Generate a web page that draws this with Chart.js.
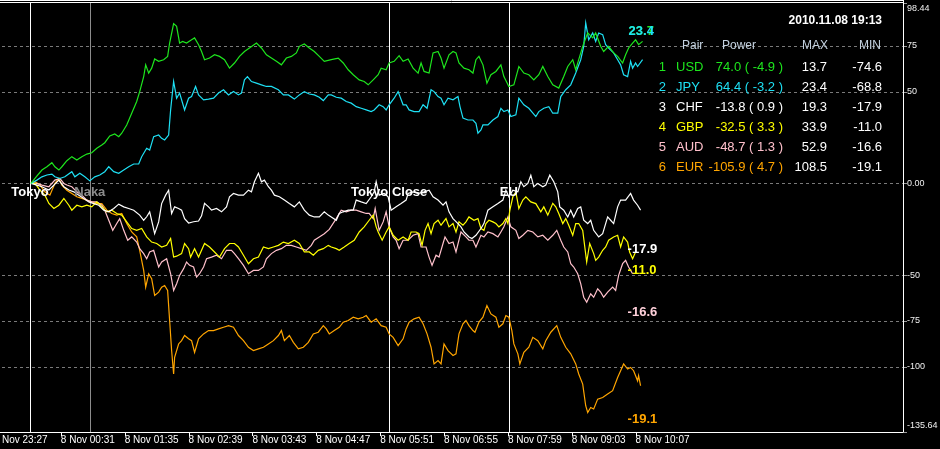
<!DOCTYPE html>
<html><head><meta charset="utf-8">
<style>html,body{margin:0;padding:0;background:#000;overflow:hidden}#wrap{width:940px;height:449px;position:relative}</style>
<script src="https://cdn.jsdelivr.net/npm/chart.js@4.4.1/dist/chart.umd.min.js"></script>
</head><body><div id="wrap"><canvas id="c"></canvas></div>
<script>
// ---- data (x = minutes since 7 Nov 23:32, one pixel per M1 bar) ----
const usdX = [29,33,40,45,50,53,57,60,65,70,75,80,85,90,95,100,103,108,113,117,120,125,130,135,138,142,144,147,150,153,157,162,166,168,172,175,178,181,185,190,193,197,200,203,208,213,218,223,228,233,238,243,248,255,260,265,270,275,280,285,290,295,298,303,308,313,318,323,330,337,342,347,352,358,363,367,372,377,380,385,388,393,398,402,407,412,417,420,423,428,432,437,440,443,448,452,455,458,463,468,472,475,478,482,486,490,495,500,503,508,513,518,523,528,533,538,542,547,552,558,563,567,572,575,578,582,587,592,595,600,603,608,613,617,622,625,628,632,635,638,642];
const usdY = [0,2.7,7.3,9.1,11.3,9.1,7.3,9.1,12.4,14.6,12.8,14.6,16.0,16.7,19.2,21.0,22.2,25.9,27.0,25.5,27.4,31.9,38.3,44.7,50.1,58.3,64.7,60.2,62.9,67.9,66.6,67.5,69.3,76.6,87.2,85.7,76.6,77.5,76.6,78.4,79.4,75.7,72.0,67.5,68.4,70.2,69.3,67.5,62.9,65.7,69.3,72.0,73.9,76.6,73.9,70.2,68.4,66.6,64.7,68.4,69.3,71.2,74.8,76.1,73.9,72.0,69.3,66.6,67.5,68.4,65.7,62.0,59.3,56.5,55.6,53.8,56.5,59.3,62.9,62.0,65.7,66.6,69.7,66.6,67.9,62.9,60.2,65.7,61.1,60.2,71.2,72.0,68.4,62.9,70.2,72.0,71.2,65.7,62.9,62.0,60.2,67.5,69.3,64.7,54.7,59.3,61.1,64.7,58.3,52.9,53.8,63.8,60.2,59.3,56.5,59.3,63.8,58.3,53.8,52.0,58.3,63.8,67.5,62.0,67.5,74.8,82.1,79.4,82.1,74.8,72.0,74.8,71.2,69.3,65.7,70.2,73.9,76.6,78.4,75.7,77.5];

const jpyX = [29,35,40,45,50,53,58,63,70,73,78,83,88,93,98,103,107,112,117,122,127,132,137,140,145,148,152,157,160,163,167,169,172,175,178,183,187,190,194,197,202,207,212,217,222,227,232,237,240,243,246,250,255,260,265,270,277,282,287,293,298,303,308,313,318,322,327,330,335,340,345,350,355,360,365,370,373,378,382,385,388,393,397,402,405,408,413,418,422,426,430,433,437,440,443,447,452,457,459,462,467,472,475,477,480,482,487,492,497,500,503,507,510,515,518,523,528,535,538,543,548,552,557,560,565,570,575,580,583,585,588,592,595,598,602,605,608,613,617,620,623,627,630,632,635,637,642];
const jpyY = [0,1.8,3.6,4.6,5.1,3.6,2.7,3.6,6.4,3.6,5.5,3.6,1.4,3.6,4.6,6.4,9.1,6.4,5.5,7.3,9.1,10.6,10.6,14.6,19.2,18.2,25.5,26.4,24.6,23.7,26.4,40.1,55.6,46.5,49.3,40.1,46.5,47.4,52.9,48.3,45.6,46.0,46.5,49.3,51.1,48.3,50.1,48.3,49.3,56.5,58.3,55.6,54.7,53.8,52.9,52.9,51.1,48.3,48.3,46.0,48.3,50.1,48.8,48.3,47.0,45.2,48.3,48.3,47.0,46.5,44.7,43.8,41.9,41.0,40.1,39.2,40.1,42.9,41.9,40.1,42.9,46.5,50.1,42.9,42.9,40.1,39.2,39.2,42.9,41.0,51.1,50.1,47.4,46.5,42.9,46.5,45.6,47.4,41.9,35.6,34.6,34.6,32.8,27.4,29.2,31.9,31.9,34.6,36.5,41.0,39.2,40.1,36.5,37.4,46.5,42.9,41.0,36.5,39.2,41.0,41.9,38.3,38.3,47.4,51.1,53.8,60.2,67.5,74.8,87.6,78.4,82.1,77.5,82.1,81.2,75.7,73.9,71.2,67.5,64.7,59.3,58.3,66.6,62.9,65.7,63.8,67.5];

const chfX = [29,35,40,47,52,57,62,67,72,77,82,87,92,97,102,107,112,117,122,127,132,138,142,145,148,153,157,160,164,167,170,173,177,180,183,187,192,197,200,203,207,210,215,220,225,228,232,237,242,247,250,253,257,260,263,267,270,273,278,283,288,293,298,303,308,313,318,323,327,330,335,338,342,347,352,355,360,365,370,373,375,378,383,387,390,395,400,405,407,412,417,423,428,432,437,442,445,448,452,457,460,463,468,471,475,480,483,487,492,497,502,505,508,512,517,520,523,527,530,533,537,542,545,549,553,557,559,563,567,570,573,577,580,583,587,590,593,598,602,607,610,613,617,620,625,630,633,637,640];
const chfY = [0,-0.9,-1.8,-3.6,-0.9,1.8,-1.8,-3.6,-4.6,-6.4,-8.2,-10.1,-11.0,-11.9,-14.6,-15.5,-13.7,-11.3,-12.8,-13.7,-14.6,-17.3,-20.1,-18.2,-15.5,-27.4,-21.0,-11.0,-6.4,-3.7,-16.4,-12.8,-13.7,-14.6,-19.2,-21.6,-20.9,-20.5,-17.7,-10.9,-12.8,-14.6,-13.7,-15.5,-12.8,-7.3,-5.5,-6.4,-6.4,-3.7,-4.6,0.9,5.5,0.9,1.8,-1.8,-3.7,-6.4,-7.3,-9.1,-11.0,-12.8,-10.1,-14.6,-17.3,-18.3,-18.3,-15.5,-17.3,-18.3,-20.1,-16.4,-15.5,-14.6,-14.6,-9.1,-10.1,-11.0,-7.3,-4.6,0.9,-6.4,-5.5,-7.3,-14.6,-12.8,-11.0,-9.1,-5.5,-4.6,-5.5,-4.6,-3.7,-7.3,-9.1,-11.9,-10.1,-15.5,-19.2,-21.9,-23.7,-26.5,-29.2,-30.1,-28.3,-24.6,-21.9,-14.6,-12.8,-11.0,-9.1,-3.7,-7.3,-3.7,-4.6,0.9,-1.8,0,4.5,-1.8,0,-1.8,-0.9,4.5,0.9,-4.6,-12.8,-14.6,-18.3,-14.6,-18.3,-13.7,-12.8,-20.1,-21.9,-20.1,-25.6,-29.2,-27.4,-18.3,-20.1,-21.9,-12.8,-9.1,-9.1,-5.5,-9.1,-11.9,-14.6];

const gbpX = [29,33,38,43,47,52,57,62,67,70,75,80,85,90,95,100,105,110,115,120,125,130,135,140,145,150,155,160,165,169,172,175,180,183,187,189,193,197,203,208,213,218,223,228,233,237,242,247,252,257,262,267,272,277,282,287,293,298,303,308,312,317,322,327,330,335,338,343,348,353,358,363,368,372,375,377,381,385,388,392,397,402,407,410,415,418,421,424,427,430,433,437,440,445,448,452,455,458,462,465,468,473,477,480,483,485,488,492,495,498,502,505,507,509,512,515,518,522,525,530,535,540,543,547,552,555,558,562,565,568,572,575,578,582,586,589,593,595,598,602,605,608,613,617,620,623,627,629,632,635];
const gbpY = [0,0,-3.7,-6.4,-10.9,-13.7,-11.9,-8.2,-11.9,-14.6,-11.9,-12.8,-11.9,-12.8,-10.1,-12.8,-15.5,-14.6,-16.4,-17.3,-21.0,-24.6,-25.6,-24.6,-29.2,-32.0,-32.8,-34.7,-33.8,-30.1,-40.2,-39.7,-38.3,-32.8,-35.6,-40.2,-35.6,-40.2,-32.8,-34.7,-37.4,-40.2,-35.6,-32.8,-32.8,-34.7,-39.2,-43.8,-41.1,-40.2,-34.7,-35.6,-34.7,-33.8,-32.0,-32.8,-31.0,-32.8,-37.4,-37.4,-39.2,-36.5,-35.6,-33.8,-34.7,-35.6,-36.5,-34.7,-32.8,-31.0,-26.5,-23.7,-20.1,-17.3,-23.7,-26.5,-31.0,-26.5,-23.7,-28.3,-31.0,-29.2,-31.0,-26.5,-26.5,-27.4,-33.8,-25.6,-21.9,-27.4,-21.9,-20.1,-22.8,-19.2,-23.7,-21.9,-26.5,-21.0,-22.8,-21.0,-18.3,-20.1,-19.2,-24.6,-25.6,-21.9,-20.1,-21.0,-21.9,-23.7,-21.9,-19.2,-21.9,-14.6,-7.3,-4.6,-13.7,-9.1,-7.3,-10.1,-11.0,-15.5,-12.8,-17.3,-10.9,-12.8,-16.4,-21.9,-19.2,-22.8,-28.3,-21.9,-21.9,-25.6,-42.9,-32.8,-38.3,-42.0,-40.2,-36.5,-34.7,-31.0,-29.2,-28.3,-34.7,-29.2,-32.0,-37.4,-41.1,-37.4];

const audX = [29,35,40,47,53,58,62,65,70,75,80,85,90,95,100,103,107,111,115,118,122,126,130,135,138,142,145,148,152,157,160,165,169,172,175,178,182,185,188,192,195,198,202,205,210,215,220,225,230,233,237,242,247,252,257,262,265,270,275,280,285,290,295,300,305,310,313,318,323,328,335,340,345,350,355,360,365,368,372,374,378,382,385,388,392,395,398,402,407,412,417,420,425,428,431,435,438,442,444,448,452,455,460,465,468,472,475,480,483,487,492,497,500,503,507,510,515,518,522,527,532,537,542,547,552,556,560,563,567,570,573,577,580,583,586,590,593,597,600,603,607,612,615,618,622,625,628,632];
const audY = [0,0,-0.9,-1.8,1.8,2.7,0,-0.9,-1.8,-4.6,-6.4,-9.1,-10.1,-10.1,-11.9,-14.6,-20.1,-25.6,-21.9,-19.2,-25.6,-31.0,-29.2,-32.0,-35.6,-38.3,-41.1,-37.4,-36.5,-45.6,-42.9,-41.1,-49.3,-58.4,-54.7,-50.2,-46.5,-42.9,-44.7,-45.6,-51.1,-49.3,-45.6,-41.1,-40.2,-39.2,-41.1,-36.5,-36.5,-38.3,-41.1,-44.7,-49.3,-47.5,-47.5,-45.6,-41.1,-38.3,-36.5,-35.6,-33.8,-33.8,-34.7,-35.6,-36.5,-33.8,-31.0,-29.2,-27.5,-25.1,-19.2,-14.6,-15.5,-14.6,-14.6,-15.5,-16.4,-16.4,-19.2,-13.7,-25.6,-21.0,-15.5,-23.7,-29.2,-31.0,-35.6,-31.0,-31.0,-28.3,-27.4,-34.7,-34.7,-40.2,-44.7,-39.2,-40.2,-32.8,-29.2,-32.8,-32.0,-37.4,-26.5,-29.2,-31.0,-31.0,-34.7,-28.3,-29.2,-26.5,-27.4,-29.2,-26.5,-23.7,-18.3,-23.7,-25.6,-30.1,-28.3,-25.6,-26.5,-29.2,-28.3,-31.0,-28.3,-25.6,-31.0,-34.7,-37.4,-43.8,-45.6,-49.3,-54.7,-62.1,-64.8,-60.2,-62.1,-57.5,-59.3,-62.1,-59.3,-56.6,-58.4,-50.2,-43.8,-42.0,-45.6,-49.3];

const eurX = [29,33,38,43,48,53,57,60,65,70,75,80,85,90,95,100,105,110,115,120,125,130,135,138,142,144,147,150,153,157,160,163,166,168,170,172,173,177,180,183,187,190,193,197,202,207,212,217,222,227,232,237,242,247,252,257,262,267,272,277,280,283,288,292,297,302,307,312,317,322,325,328,333,338,342,347,352,357,362,365,370,375,380,385,388,392,397,402,405,408,413,418,422,426,430,433,437,440,443,447,452,455,458,462,465,468,472,474,478,482,486,490,495,498,502,505,508,511,513,517,519,523,528,532,537,542,545,550,556,560,565,570,575,578,582,585,587,590,593,597,602,607,612,617,620,623,627,630,633,637,638,640];
const eurY = [0,0.9,-0.9,-4.6,-6.4,0,2.7,-0.9,-3.7,-5.5,-7.3,-8.2,-9.1,-10.1,-11.0,-11.0,-14.6,-16.4,-17.3,-16.4,-21.9,-26.5,-29.2,-36.5,-47.5,-56.6,-49.3,-52.0,-61.1,-59.3,-56.6,-55.7,-58.4,-74.8,-91.2,-104.0,-94.9,-87.6,-85.8,-83.0,-84.8,-85.8,-92.2,-84.8,-82.1,-80.3,-80.3,-79.4,-78.5,-77.6,-78.5,-83.0,-85.8,-89.4,-91.2,-90.3,-89.4,-87.6,-85.8,-83.0,-80.3,-85.8,-83.0,-86.7,-90.3,-89.4,-86.7,-82.1,-81.2,-77.6,-79.4,-82.1,-80.3,-78.5,-75.7,-74.8,-73.0,-73.9,-73.0,-72.1,-75.7,-73.9,-77.6,-78.5,-82.1,-84.0,-88.5,-84.8,-79.4,-75.7,-73.9,-73.0,-76.6,-82.1,-89.4,-98.5,-96.7,-98.5,-87.6,-91.2,-93.9,-93.0,-82.1,-76.6,-74.8,-77.6,-80.3,-81.2,-75.7,-73.0,-66.6,-71.2,-73.0,-78.5,-76.6,-72.1,-73.0,-80.3,-87.6,-93.0,-98.5,-92.2,-89.4,-84.0,-85.8,-90.3,-85.8,-81.2,-77.6,-84.0,-89.4,-93.0,-98.5,-104.0,-109.5,-121.3,-125.0,-122.3,-123.1,-117.7,-116.8,-114.9,-113.1,-105.9,-102.2,-98.5,-101.3,-100.4,-102.2,-107.7,-104.9,-110.4];

// axis ticks
const yMin = -135.64, yMax = 98.44;
const yTickVals = [98.44, 75, 50, 0, -50, -75, -100, -135.64];
const yTickLabels = ['98.44','75','50','0.00','-50','-75','-100','-135.64'];
const xMin = 0, xMax = 903;
const xTickVals = [0,59,123,187,251,315,379,443,507,571,635];
const xTickLabels = ['Nov 23:27','8 Nov 00:31','8 Nov 01:35','8 Nov 02:39','8 Nov 03:43','8 Nov 04:47','8 Nov 05:51','8 Nov 06:55','8 Nov 07:59','8 Nov 09:03','8 Nov 10:07'];

// sessions
const sessionNames = ['Tokyo','Naka','Tokyo Close','EU'];
const sessionX = [28, 88, 388, 508];

// table
const tableTitle = '2010.11.08 19:13';
const pairs = ['USD','JPY','CHF','GBP','AUD','EUR'];
const powerVal = [74.0, 64.4, -13.8, -32.5, -48.7, -105.9];
const powerChg = [-4.9, -3.2, 0.9, 3.3, 1.3, 4.7];
const maxVal = [13.7, 23.4, 19.3, 33.9, 52.9, 108.5];
const minVal = [-74.6, -68.8, -17.9, -11.0, -16.6, -19.1];
// end-of-line labels: text, series index, anchor (minute, value)
const endText = ['23.7','23.4','-17.9','-11.0','-16.6','-19.1'];
const endSeries = [0,1,2,3,4,5];
const endAtX = [628,628,627,627,627,627];
const endAtY = [83.1,83.1,-36.0,-47.5,-70.3,-129.0];

// ---- styles ----
const colors = ['#1ee61e','#1ee0f4','#ffffff','#ffff00','#ffc0cb','#ffa500'];
const endColors = ['#1ee61e','#1ee0f4','#ffffff','#ffff00','#ffd0da','#ffa500'];
const sessionColors = ['#ffffff','#8c8c8c','#ffffff','#ffffff'];
const FONT = '"Liberation Sans", Arial, sans-serif';

const seriesX = [usdX, jpyX, chfX, gbpX, audX, eurX];
const seriesY = [usdY, jpyY, chfY, gbpY, audY, eurY];

const datasets = pairs.map((p, i) => ({
  label: p,
  data: seriesX[i].map((x, k) => ({x, y: seriesY[i][k]})),
  borderColor: colors[i],
  borderWidth: 1.2,
  pointRadius: 0,
  tension: 0,
  fill: false
}));

const overlay = {
  id: 'overlay',
  beforeDraw(chart) {
    const {ctx, width, height} = chart;
    ctx.save(); ctx.fillStyle = '#000'; ctx.fillRect(0, 0, width, height); ctx.restore();
  },
  beforeDatasetsDraw(chart) {
    const {ctx, chartArea: a, scales: {x, y}} = chart;
    ctx.save();
    ctx.lineWidth = 1;
    ctx.strokeStyle = '#7a7a7a';
    ctx.setLineDash([3, 3]);
    y.ticks.forEach(t => {
      if (t.value === yMax || t.value === yMin) return;
      const py = Math.round(y.getPixelForValue(t.value)) + 0.5;
      ctx.beginPath(); ctx.moveTo(a.left, py); ctx.lineTo(a.right, py); ctx.stroke();
    });
    ctx.setLineDash([]);
    sessionX.forEach((s, i) => {
      const px = Math.round(x.getPixelForValue(s)) + 0.5;
      ctx.strokeStyle = sessionColors[i];
      ctx.beginPath(); ctx.moveTo(px, a.top); ctx.lineTo(px, a.bottom); ctx.stroke();
    });
    ctx.restore();
  },
  afterDraw(chart) {
    const {ctx, chartArea: a, scales: {x, y}} = chart;
    ctx.save();
    // frame
    ctx.strokeStyle = '#ffffff'; ctx.lineWidth = 1;
    ctx.beginPath();
    ctx.moveTo(0, 0.5); ctx.lineTo(a.right + 0.5, 0.5);
    ctx.moveTo(0, a.top - 0.5); ctx.lineTo(a.right + 0.5, a.top - 0.5);
    ctx.moveTo(a.right + 0.5, 0); ctx.lineTo(a.right + 0.5, a.bottom + 0.5);
    ctx.moveTo(0, a.bottom + 0.5); ctx.lineTo(a.right + 0.5, a.bottom + 0.5);
    ctx.stroke();
    // x tick marks (first tick sits at the clipped left edge, no mark)
    x.ticks.forEach((t, i) => {
      if (i === 0) return;
      const px = Math.round(x.getPixelForValue(t.value)) + 0.5;
      ctx.beginPath(); ctx.moveTo(px, a.bottom); ctx.lineTo(px, a.bottom + 4); ctx.stroke();
    });
    // y tick marks + labels
    ctx.font = '9px ' + FONT;
    ctx.textAlign = 'left'; ctx.textBaseline = 'middle';
    y.ticks.forEach((t, i) => {
      const py = y.getPixelForValue(t.value);
      ctx.strokeStyle = '#9a9a9a';
      ctx.beginPath(); ctx.moveTo(a.right + 1, Math.round(py) + 0.5); ctx.lineTo(a.right + 4, Math.round(py) + 0.5); ctx.stroke();
      const ly = Math.min(Math.max(py, a.top + 6), a.bottom - 6);
      ctx.fillStyle = '#f0f0f0';
      ctx.fillText(yTickLabels[i], a.right + 4, ly);
    });
    // session labels
    ctx.font = 'bold 13px ' + FONT;
    ctx.textAlign = 'center';
    sessionX.forEach((s, i) => {
      ctx.fillStyle = sessionColors[i];
      ctx.fillText(sessionNames[i], x.getPixelForValue(s), y.getPixelForValue(-4.8));
    });
    // end labels
    ctx.textAlign = 'left';
    endText.forEach((t, i) => {
      ctx.fillStyle = endColors[endSeries[i]];
      ctx.fillText(t, x.getPixelForValue(endAtX[i]), y.getPixelForValue(endAtY[i]));
    });
    // table
    ctx.fillStyle = '#ffffff';
    ctx.font = 'bold 12px ' + FONT;
    ctx.textAlign = 'right';
    ctx.fillText(tableTitle, 882, 21);
    ctx.font = '12px ' + FONT;
    ctx.fillStyle = '#c4d2e0';
    ctx.textAlign = 'left';
    ctx.fillText('Pair', 682, 46);
    ctx.fillText('Power', 722, 46);
    ctx.textAlign = 'right';
    ctx.fillText('MAX', 828, 46);
    ctx.fillText('MIN', 881, 46);
    ctx.font = '13px ' + FONT;
    pairs.forEach((p, i) => {
      const ry = 67 + i * 20;
      ctx.fillStyle = colors[i];
      ctx.textAlign = 'right';
      ctx.fillText(String(i + 1), 666, ry);
      ctx.textAlign = 'left';
      ctx.fillText(p, 676, ry);
      ctx.textAlign = 'right';
      ctx.fillText(powerVal[i].toFixed(1) + ' ( ' + powerChg[i].toFixed(1) + ' )', 783, ry);
      ctx.fillStyle = '#ffffff';
      ctx.fillText(maxVal[i].toFixed(1), 827, ry);
      ctx.fillText(minVal[i].toFixed(1), 882, ry);
    });
    ctx.restore();
  }
};

new Chart(document.getElementById('c'), {
  type: 'line',
  data: {datasets},
  options: {
    responsive: true,
    maintainAspectRatio: false,
    devicePixelRatio: 1,
    animation: false,
    events: [],
    layout: {padding: {top: 3, left: 0, right: 0, bottom: 0}},
    plugins: {legend: {display: false}, tooltip: {enabled: false}},
    scales: {
      x: {
        type: 'linear', min: xMin, max: xMax,
        afterBuildTicks: s => { s.ticks = xTickVals.map(v => ({value: v})); },
        afterFit: s => { s.height = 17; },
        grid: {display: false, drawTicks: false},
        border: {display: false},
        ticks: {
          autoSkip: false, maxRotation: 0, minRotation: 0, align: 'start', labelOffset: 0, padding: 2,
          color: '#ffffff', font: {family: FONT, size: 10},
          callback: (v, i) => xTickLabels[i]
        }
      },
      y: {
        type: 'linear', position: 'right', min: yMin, max: yMax,
        afterBuildTicks: s => { s.ticks = yTickVals.map(v => ({value: v})); },
        afterFit: s => { s.width = 37; },
        grid: {display: false, drawTicks: false},
        border: {display: false},
        ticks: {display: false}
      }
    }
  },
  plugins: [overlay]
});
</script></body></html>
